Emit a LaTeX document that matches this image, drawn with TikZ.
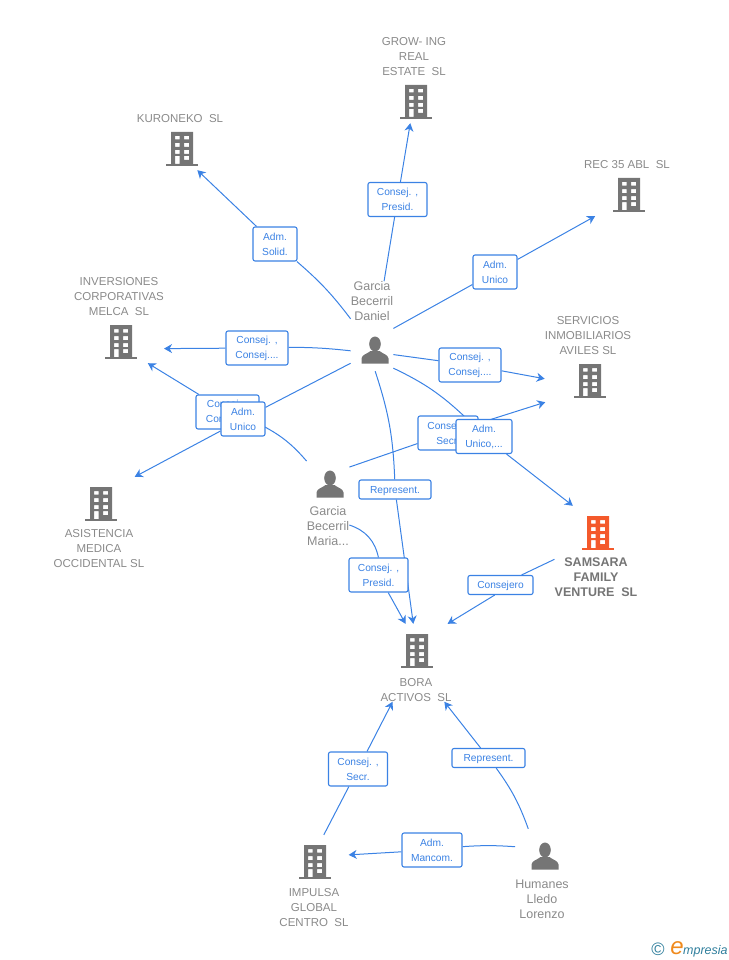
\documentclass[tikz,border=0pt]{standalone}
\usepackage{fontspec}
\setmainfont{Liberation Sans}
\usepackage{xcolor}
\usetikzlibrary{arrows.meta,fit,backgrounds}
\definecolor{linkblue}{HTML}{3B82E4}
\definecolor{icongray}{HTML}{757575}
\definecolor{textgray}{HTML}{8A8A8A}
\definecolor{mainorange}{HTML}{F4592B}
\definecolor{logoteal}{HTML}{2F7E9C}
\definecolor{logoorange}{HTML}{F08A1D}
\tikzset{
    pics/building/.style={code={
        \fill[#1, even odd rule] (-11,-14) rectangle (11,18)
            (-7,-10) rectangle (-2.5,-6.5) (2,-10) rectangle (7,-6.5)
            (-7,-3) rectangle (-2.5,1) (2,-3) rectangle (7,1)
            (-7,4) rectangle (-2.5,8) (2,4) rectangle (7,8)
            (-7,10) rectangle (-2.5,18) (2,10) rectangle (7,14);
        \fill[#1] (-16,18) rectangle (16,20);
    }},
    pics/person/.style={code={
        \fill[icongray] (0,-3) ellipse (5.8 and 7.5);
        \fill[icongray] (-13.5,16.5) -- (-13.5,11.5) .. controls (-13,7.5) and (-8,7) .. (-4.5,4)
            -- (4.5,4) .. controls (8,7) and (13,7.5) .. (13.5,11.5) -- (13.5,16.5) -- cycle;
    }}
}
\begin{document}
\begin{tikzpicture}[
        x=1pt, y=-1pt,
        font={\fontsize{11.5}{15}\selectfont},
        nametext/.style={align=center, text=textgray, inner sep=0pt},
        persontext/.style={nametext, font={\fontsize{12.5}{15}\selectfont}},
        mainname/.style={nametext, font={\fontsize{12.5}{15}\selectfont\bfseries}, text=icongray},
        iconbox/.style={minimum width=32pt, minimum height=48pt, inner sep=0pt},
        entity/.style={inner sep=0pt, outer sep=0pt},
        role/.style={draw=linkblue, fill=white, rounded corners=2pt, line width=1.1pt, align=center,
            text=linkblue, font={\fontsize{10.2}{15}\selectfont}, inner sep=0pt, minimum height=34pt},
        shortrole/.style={role, minimum height=19pt, text height=7.5pt, text depth=0pt},
        line/.style={linkblue, line width=1pt, -{Stealth[length=8pt,width=9pt,inset=2.5pt]}},
        plain/.style={linkblue, line width=1pt}
    ]
    \useasboundingbox (0,0) rectangle (728,960);

    % COMPANIES
    \node[nametext] (growingtext) at (414,57) {GROW- ING\\ REAL\\ ESTATE\ \ SL};
    \node[iconbox] (growingicon) at (416,99) {};
    \pic at (growingicon) {building=icongray};
    \node[entity, fit=(growingtext)(growingicon)] (growing) {};

    \node[nametext] (kuronekotext) at (180,119) {KURONEKO\ \ SL};
    \node[iconbox] (kuronekoicon) at (182,146) {};
    \pic at (kuronekoicon) {building=icongray};
    \node[entity, fit=(kuronekotext)(kuronekoicon)] (kuroneko) {};

    \node[nametext] (rectext) at (627,165) {REC 35 ABL\ \ SL};
    \node[iconbox] (recicon) at (629,192) {};
    \pic at (recicon) {building=icongray};
    \node[entity, fit=(rectext)(recicon)] (rec) {};

    \node[nametext] (inversionestext) at (119,297) {INVERSIONES\\ CORPORATIVAS\\ MELCA\ \ SL};
    \node[iconbox] (inversionesicon) at (121,339) {};
    \pic at (inversionesicon) {building=icongray};
    \node[entity, fit=(inversionestext)(inversionesicon)] (inversiones) {};

    \node[nametext] (serviciostext) at (588,336) {SERVICIOS\\ INMOBILIARIOS\\ AVILES SL};
    \node[iconbox] (serviciosicon) at (590,378) {};
    \pic at (serviciosicon) {building=icongray};
    \node[entity, fit=(serviciostext)(serviciosicon)] (servicios) {};

    \node[nametext] (asistenciatext) at (99,549) {ASISTENCIA\\ MEDICA\\ OCCIDENTAL SL};
    \node[iconbox] (asistenciaicon) at (101,501) {};
    \pic at (asistenciaicon) {building=icongray};
    \node[entity, fit=(asistenciatext)(asistenciaicon)] (asistencia) {};

    \node[mainname] (samsaratext) at (596,577) {SAMSARA\\ FAMILY\\ VENTURE\ \ SL};
    \node[iconbox] (samsaraicon) at (598,530) {};
    \pic at (samsaraicon) {building=mainorange};
    \node[entity, fit=(samsaratext)(samsaraicon)] (samsara) {};

    \node[nametext] (boratext) at (416,690) {BORA\\ ACTIVOS\ \ SL};
    \node[iconbox] (boraicon) at (417,648) {};
    \pic at (boraicon) {building=icongray};
    \node[entity, fit=(boratext)(boraicon)] (bora) {};

    \node[nametext] (impulsatext) at (314,908) {IMPULSA\\ GLOBAL\\ CENTRO\ \ SL};
    \node[iconbox] (impulsaicon) at (315,859) {};
    \pic at (impulsaicon) {building=icongray};
    \node[entity, fit=(impulsatext)(impulsaicon)] (impulsa) {};

    % PEOPLE
    \node[persontext] (danieltext) at (372,301) {Garcia\\ Becerril\\ Daniel};
    \node[iconbox] (danielicon) at (375,347) {};
    \pic at (danielicon) {person};
    \node[entity, fit=(danieltext)(danielicon)] (daniel) {};

    \node[persontext] (mariatext) at (328,526) {Garcia\\ Becerril\\ Maria...};
    \node[iconbox] (mariaicon) at (330,481) {};
    \pic at (mariaicon) {person};
    \node[entity, fit=(mariatext)(mariaicon)] (maria) {};

    \node[persontext] (humanestext) at (542,899) {Humanes\\ Lledo\\ Lorenzo};
    \node[iconbox] (humanesicon) at (545,853) {};
    \pic at (humanesicon) {person};
    \node[entity, fit=(humanestext)(humanesicon)] (humanes) {};

    % ROLES
    \node[role, minimum width=44pt] (rolekuroneko) at (275,244) {Adm.\\ Solid.};
    \node[role, minimum width=59pt] (rolegrowing) at (397.5,199.5) {Consej. ,\\ Presid.};
    \node[role, minimum width=44pt] (rolerec) at (495,272) {Adm.\\ Unico};
    \node[role, minimum width=62pt] (roleinversiones) at (257,348) {Consej. ,\\ Consej....};
    \node[role, minimum width=62pt] (roleservicios) at (470,365) {Consej. ,\\ Consej....};
    \node[role, minimum width=63pt] (rolemariainv) at (227.5,412) {Consej. ,\\ Consej....};
    \node[role, minimum width=44pt] (roleasistencia) at (243,419) {Adm.\\ Unico};
    \node[role, minimum width=60pt] (rolemariaserv) at (448,433) {Consej. ,\\ Secr.};
    \node[role, minimum width=56pt] (rolesamsara) at (484,436.5) {Adm.\\ Unico,...};
    \node[shortrole, minimum width=72pt] (rolerepresent) at (395,489.5) {Represent.};
    \node[role, minimum width=59pt] (rolemariabora) at (378.5,575) {Consej. ,\\ Presid.};
    \node[shortrole, minimum width=65pt] (roleconsejero) at (500.5,585) {Consejero};
    \node[role, minimum width=59pt] (roleimpulsa) at (358,769) {Consej. ,\\ Secr.};
    \node[shortrole, minimum width=73pt] (rolehumanes) at (488.5,758) {Represent.};
    \node[role, minimum width=60pt] (rolemancom) at (432,850) {Adm.\\ Mancom.};

    % CONNECTIONS
    \begin{scope}[on background layer]
    \draw[plain] (daniel.161) to[bend right=6] (rolekuroneko);
    \draw[line] (rolekuroneko) -- (kuroneko.-58);
    \draw[plain] (daniel.75) -- (rolegrowing);
    \draw[line] (rolegrowing) -- (growing.265);
    \draw[plain] (daniel.-6) -- (rolerec);
    \draw[line] (rolerec) -- (rec.221);
    \draw[plain] (daniel.229) to[bend right=3] (roleinversiones);
    \draw[line] (roleinversiones) -- (inversiones.-32);
    \draw[plain] (daniel.-53) -- (roleservicios);
    \draw[line] (roleservicios) -- (servicios.204);
    \draw[plain] (daniel.240) -- (roleasistencia);
    \draw[line] (roleasistencia) -- (asistencia.52);
    \draw[plain] (daniel.-63) to[bend left=9] (rolesamsara);
    \draw[line] (rolesamsara) -- (samsara.117);
    \draw[plain] (daniel.-86) to[bend left=8] (rolerepresent);
    \draw[line] (rolerepresent) -- (bora.94);
    \draw[plain] (maria.118) to[bend right=11] (rolemariainv);
    \draw[line] (rolemariainv) -- (inversiones.-56);
    \draw[plain] (maria.58) -- (rolemariaserv);
    \draw[line] (rolemariaserv) -- (servicios.225);
    \draw[plain] (maria.-48) to[bend left=30] (rolemariabora);
    \draw[line] (rolemariabora) -- (bora.105);
    \draw[plain] (samsara.191) -- (roleconsejero);
    \draw[line] (roleconsejero.240) -- (bora.51);
    \draw[plain] (impulsa.78) -- (roleimpulsa);
    \draw[line] (roleimpulsa) -- (bora.239);
    \draw[plain] (humanes.107) to[bend right=8] (rolehumanes);
    \draw[line] (rolehumanes) -- (bora.-54);
    \draw[plain] (humanes.135) to[bend right=4] (rolemancom);
    \draw[line] (rolemancom) -- (impulsa.37);
    \end{scope}

    % LOGO
    \node[text=logoteal, font={\fontsize{18}{18}\selectfont}, inner sep=0pt] (logomark) at (658,949) {©};
    \node[text=logoorange, font={\fontsize{24}{24}\selectfont\itshape}, inner sep=0pt] (logoe) at (677,948) {e};
    \node[text=logoteal, font={\fontsize{12.5}{12.5}\selectfont\itshape}, inner sep=0pt, anchor=west] (logoname) at (683,951) {mpresia};
\end{tikzpicture}
\end{document}
